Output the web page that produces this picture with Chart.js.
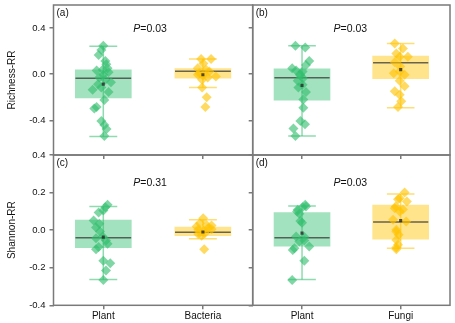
<!DOCTYPE html>
<html>
<head>
<meta charset="utf-8">
<script src="https://cdn.jsdelivr.net/npm/chart.js@4.4.1/dist/chart.umd.min.js"></script>
<style>
  html, body { margin: 0; padding: 0; background: #fff; }
  #wrap { position: relative; width: 455px; height: 323px; }
  #wrap canvas { position: absolute; left: 0; top: 0; }
</style>
</head>
<body>
<div id="wrap">
  <canvas id="pa" width="455" height="323"></canvas>
  <canvas id="pb" width="455" height="323"></canvas>
  <canvas id="pc" width="455" height="323"></canvas>
  <canvas id="pd" width="455" height="323"></canvas>
</div>
<script>
// categories and ticks
var catsBacteria = ['Plant', 'Bacteria'];
var catsFungi = ['Plant', 'Fungi'];
var richTicks = [-0.4, 0, 0.4];
var shanTicks = [-0.4, -0.2, 0, 0.2, 0.4];
var pValues = ['0.03', '0.03', '0.31', '0.03'];

// box stats: [low whisker, q1, median, q3, high whisker, mean]
var richPlantA = [-0.54, -0.205, -0.034, 0.038, 0.243, -0.086];
var richBactA = [-0.114, -0.034, 0.026, 0.049, 0.132, -0.005];
var richPlantB = [-0.536, -0.225, -0.031, 0.046, 0.246, -0.097];
var richFungiB = [-0.291, -0.039, 0.1, 0.158, 0.266, 0.04];
var shanPlantC = [-0.263, -0.093, -0.041, 0.053, 0.126, -0.037];
var shanBactC = [-0.046, -0.03, -0.011, 0.016, 0.055, -0.01];
var shanPlantD = [-0.263, -0.085, -0.041, 0.094, 0.128, -0.016];
var shanFungiD = [-0.096, -0.048, 0.043, 0.133, 0.193, 0.051];

// raw points and their jitter (category units)
var richPlantAVals = [0.246, 0.209, 0.166, 0.115, 0.086, 0.051, 0.038, 0.032, 0.017, -0.005, -0.028, -0.048,
    -0.069, -0.086, -0.114, -0.134, -0.154, -0.223, -0.285, -0.297, -0.405, -0.44, -0.474, -0.536];
var richPlantAJit = [0, -0.02, -0.047, 0.02, 0.03, 0.043, -0.007, -0.067, 0.053, 0, -0.04, 0.02,
    0.077, -0.053, -0.02, -0.107, 0.053, 0.01, -0.067, -0.09, -0.02, 0.01, 0.033, 0.01];
var richBactAVals = [0.132, 0.132, 0.094, 0.051, 0.038, 0.023, 0.009, -0.011, -0.02, -0.028, -0.048, -0.005,
    -0.114, -0.2, -0.285];
var richBactAJit = [-0.018, 0.082, 0.005, -0.052, 0.032, 0.065, -0.035, 0, 0.13, 0.048, -0.008, -0.05,
    -0.008, 0.038, 0.025];
var richPlantBVals = [0.246, 0.231, 0.115, 0.08, 0.051, 0.032, 0.023, 0, -0.011, -0.034, -0.057, -0.091,
    -0.114, -0.154, -0.219, -0.291, -0.405, -0.434, -0.471, -0.536];
var richPlantBJit = [-0.067, 0.033, 0.073, 0.04, -0.1, -0.06, 0.006, -0.02, -0.017, 0.01, -0.044, 0.006,
    -0.037, 0.04, 0.013, 0.013, -0.017, 0.03, -0.087, -0.067];
var richFungiBVals = [0.266, 0.223, 0.18, 0.152, 0.152, 0.103, 0.066, 0.023, 0.009, -0.005, -0.057, -0.105,
    -0.148, -0.177, -0.234, -0.285];
var richFungiBJit = [-0.06, 0.023, -0.044, 0.073, -0.01, -0.06, -0.004, -0.01, -0.07, 0.04, -0.01, 0.04,
    -0.06, -0.01, 0.006, -0.027];
var shanPlantCVals = [0.135, 0.122, 0.104, 0.094, 0.051, 0.034, 0.014, -0.007, -0.034, -0.043, -0.055, -0.073,
    -0.09, -0.101, -0.163, -0.176, -0.215, -0.265];
var shanPlantCJit = [0.043, 0.02, 0, -0.047, -0.097, -0.04, -0.073, -0.033, -0.007, -0.073, 0.027, 0.043,
    -0.047, -0.073, 0, 0.07, 0.027, 0];
var shanBactCVals = [0.064, 0.037, 0.028, 0.025, 0.019, 0.011, 0.002, -0.002, 0.005, -0.016, -0.02, -0.03, -0.101];
var shanBactCJit = [0.003, -0.03, 0.037, 0.087, -0.063, 0.053, -0.047, 0.003, 0.087, 0.02, -0.047, -0.013, 0.013];
var shanPlantDVals = [0.135, 0.126, 0.122, 0.108, 0.099, 0.087, 0.049, 0.04, -0.034, -0.037, -0.055, -0.061,
    -0.087, -0.096, -0.105, -0.163, -0.265];
var shanPlantDJit = [0.033, 0.04, 0.006, -0.044, -0.05, -0.027, -0.017, 0, -0.06, 0.023, 0.023, -0.027,
    0.073, -0.077, -0.094, 0.023, -0.1];
var shanFungiDVals = [0.2, 0.17, 0.165, 0.152, 0.126, 0.117, 0.11, 0.099, 0.055, 0.046, 0.002, -0.007,
    -0.025, -0.052, -0.078, -0.093, -0.101];
var shanFungiDJit = [0.04, -0.01, -0.027, 0.063, -0.05, -0.06, 0.023, -0.01, -0.077, 0.056, -0.044, -0.044,
    -0.02, -0.044, -0.027, -0.044, -0.044];

var GREEN = [50, 190, 110];
var YELLOW = [255, 195, 0];
var FRAME = '#7a7a7a';
var TEXT = '#111';
var FONT = 'Liberation Sans, Arial, sans-serif';

function rgba(c, a) {
    return 'rgba(' + c.join(',') + ',' + a + ')';
}

// frame, panel letter and P value
var panelText = {
    id: 'panelText',
    afterDraw: function (chart, args, opts) {
        var ctx = chart.ctx, a = chart.chartArea;
        ctx.save();
        ctx.strokeStyle = FRAME;
        ctx.lineWidth = 1.5;
        ctx.strokeRect(a.left, a.top, a.right - a.left, a.bottom - a.top);
        ctx.fillStyle = TEXT;
        ctx.textBaseline = 'middle';
        ctx.font = '10px ' + FONT;
        ctx.fillText(opts.letter, a.left + 3, a.top + 8);
        var x = chart.scales.x.getPixelForValue(opts.px);
        var y = chart.scales.y.getPixelForValue(opts.py);
        ctx.font = 'italic 10.5px ' + FONT;
        var w1 = ctx.measureText('P').width;
        ctx.font = '10.5px ' + FONT;
        var rest = '=' + opts.p;
        var w2 = ctx.measureText(rest).width;
        var x0 = x - (w1 + w2) / 2;
        ctx.font = 'italic 10.5px ' + FONT;
        ctx.fillText('P', x0, y);
        ctx.font = '10.5px ' + FONT;
        ctx.fillText(rest, x0 + w1, y);
        ctx.restore();
    }
};

function lineSet(pts, color, order) {
    return {
        type: 'line', data: pts, borderColor: color, borderWidth: 1.5,
        pointRadius: 0, fill: false, tension: 0, order: order
    };
}

function buildPanel(id, p) {
    var colors = [GREEN, YELLOW];
    var datasets = [{
        type: 'bar',
        data: p.groups.map(function (g, i) { return {x: i + 1, y: [g.stats[1], g.stats[3]]}; }),
        backgroundColor: colors.map(function (c) { return rgba(c, 0.45); }),
        borderWidth: 0,
        barThickness: 56,
        order: 6
    }];
    p.groups.forEach(function (g, i) {
        var cx = i + 1, s = g.stats, c = colors[i];
        datasets.push(lineSet([{x: cx, y: s[0]}, {x: cx, y: s[4]}], rgba(c, 0.55), 5));
        datasets.push(lineSet([{x: cx - 0.14, y: s[0]}, {x: cx + 0.14, y: s[0]}], rgba(c, 0.55), 5));
        datasets.push(lineSet([{x: cx - 0.14, y: s[4]}, {x: cx + 0.14, y: s[4]}], rgba(c, 0.55), 5));
        datasets.push(lineSet([{x: cx - 0.28, y: s[2]}, {x: cx + 0.28, y: s[2]}], 'rgba(55,55,55,0.75)', 4));
        datasets.push({
            type: 'scatter',
            data: g.vals.map(function (v, k) { return {x: cx + g.jit[k], y: v}; }),
            pointStyle: 'rectRot', pointRadius: 5, borderWidth: 0,
            backgroundColor: rgba(c, 0.62), order: 3
        });
        datasets.push({
            type: 'scatter', data: [{x: cx, y: s[5]}],
            pointStyle: 'rect', pointRadius: 2.2, borderWidth: 0,
            backgroundColor: 'rgba(40,40,40,0.8)', order: 1
        });
    });

    var yW = p.left ? 53.5 : 6;
    var xH = p.bottom ? 17.7 : 6;
    var top = p.bottom ? 155 : 3;

    new Chart(document.getElementById(id), {
        type: 'bar',
        data: {datasets: datasets},
        plugins: [panelText],
        options: {
            responsive: false,
            animation: false,
            devicePixelRatio: 1,
            events: [],
            layout: {
                padding: {
                    left: p.left ? 0 : 252.7 - yW,
                    right: p.left ? 455 - 252.7 : 4,
                    top: top,
                    bottom: p.bottom ? 0 : 323 - 155 - xH
                }
            },
            plugins: {
                legend: {display: false},
                tooltip: {enabled: false},
                panelText: {letter: p.letter, p: p.p, px: p.px, py: p.py}
            },
            scales: {
                x: {
                    type: 'linear', min: 0.5, max: 2.5, offset: false,
                    afterBuildTicks: function (s) { s.ticks = [{value: 1}, {value: 2}]; },
                    afterFit: function (s) { s.height = xH; s.paddingLeft = 0; s.paddingRight = 0; },
                    grid: {drawOnChartArea: false, drawTicks: true, tickLength: 4, color: FRAME, lineWidth: 1.5, offset: false},
                    border: {display: false},
                    ticks: {
                        display: p.bottom, autoSkip: false, maxRotation: 0, padding: 1,
                        color: TEXT, font: {family: FONT, size: 10},
                        callback: function (v) { return p.cats[Math.round(v) - 1]; }
                    }
                },
                y: {
                    type: 'linear', min: p.yMin, max: p.yMax,
                    afterBuildTicks: function (s) { s.ticks = p.yTicks.map(function (v) { return {value: v}; }); },
                    afterFit: function (s) { s.width = yW; s.paddingTop = 0; s.paddingBottom = 0; },
                    grid: {drawOnChartArea: false, drawTicks: true, tickLength: 4, color: FRAME, lineWidth: 1.5},
                    border: {display: false},
                    ticks: {
                        display: p.left, padding: 4, color: TEXT, font: {family: FONT, size: 9.5},
                        callback: function (v) { return v.toFixed(1); }
                    },
                    title: {
                        display: p.left, text: p.yTitle, color: TEXT,
                        font: {family: FONT, size: 10}, padding: {top: 6, bottom: 0}
                    }
                }
            }
        }
    });
}

buildPanel('pa', {
    cats: catsBacteria, letter: '(a)', p: pValues[0], px: 1.47, py: 0.39,
    yMin: -0.7, yMax: 0.6, yTicks: richTicks, left: true, bottom: false, yTitle: 'Richness-RR',
    groups: [{stats: richPlantA, vals: richPlantAVals, jit: richPlantAJit},
             {stats: richBactA, vals: richBactAVals, jit: richBactAJit}]
});
buildPanel('pb', {
    cats: catsFungi, letter: '(b)', p: pValues[1], px: 1.49, py: 0.39,
    yMin: -0.7, yMax: 0.6, yTicks: richTicks, left: false, bottom: false,
    groups: [{stats: richPlantB, vals: richPlantBVals, jit: richPlantBJit},
             {stats: richFungiB, vals: richFungiBVals, jit: richFungiBJit}]
});
buildPanel('pc', {
    cats: catsBacteria, letter: '(c)', p: pValues[2], px: 1.47, py: 0.25,
    yMin: -0.4, yMax: 0.4, yTicks: shanTicks, left: true, bottom: true, yTitle: 'Shannon-RR',
    groups: [{stats: shanPlantC, vals: shanPlantCVals, jit: shanPlantCJit},
             {stats: shanBactC, vals: shanBactCVals, jit: shanBactCJit}]
});
buildPanel('pd', {
    cats: catsFungi, letter: '(d)', p: pValues[3], px: 1.49, py: 0.25,
    yMin: -0.4, yMax: 0.4, yTicks: shanTicks, left: false, bottom: true,
    groups: [{stats: shanPlantD, vals: shanPlantDVals, jit: shanPlantDJit},
             {stats: shanFungiD, vals: shanFungiDVals, jit: shanFungiDJit}]
});
</script>
</body>
</html>
